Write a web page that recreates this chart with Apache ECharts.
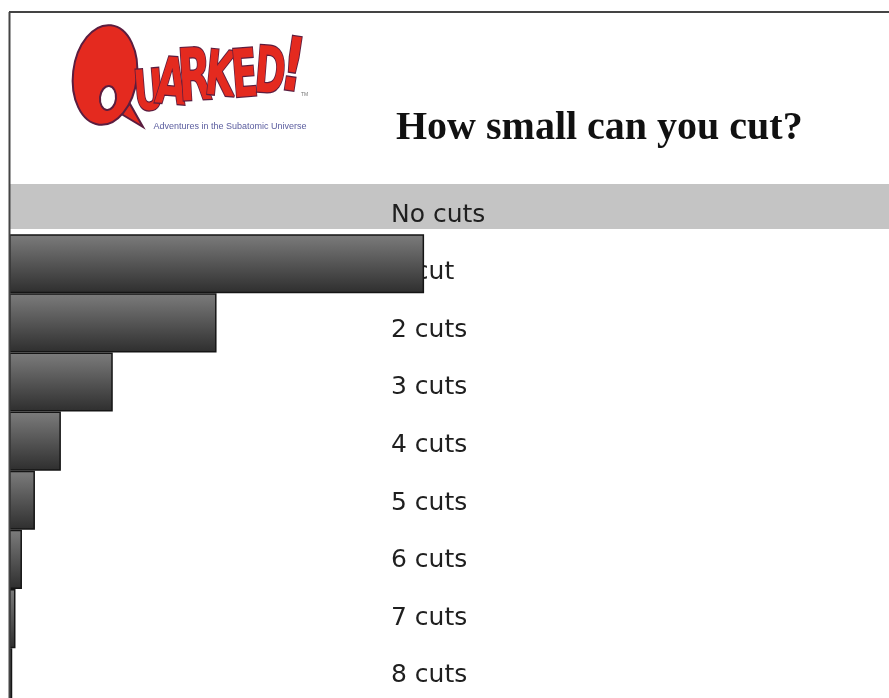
<!DOCTYPE html>
<html><head><meta charset="utf-8">
<script src="https://cdn.jsdelivr.net/npm/echarts@6/dist/echarts.min.js"></script>
<style>html,body{margin:0;padding:0;background:#fff}#c{width:889px;height:698px}</style>
</head><body><div id="c"></div>
<script>
// ---- data ----
const categories = ['No cuts', '1 cut', '2 cuts', '3 cuts', '4 cuts', '5 cuts', '6 cuts', '7 cuts', '8 cuts'];
const noCutValue = 100;
const cutCategories = ['1 cut', '2 cuts', '3 cuts', '4 cuts', '5 cuts', '6 cuts', '7 cuts', '8 cuts'];
const cutValues = [50, 25, 12.5, 6.25, 3.125, 1.5625, 0.78125, 0.390625];
const titleText = 'How small can you cut?';
const logoWord = 'QUARKED!';
const logoTagline = 'Adventures in the Subatomic Universe';

// ---- chart ----
const chart = echarts.init(document.getElementById('c'), null, {renderer: 'canvas'});

const RED = '#e42a1f', OUT = '#5b1d3f';
const letterSpecs = [ // x, y, size, rotation, scaleX for letters after Q
  [149, 95, 56, 0.08, 0.66],
  [171, 87, 64, -0.08, 0.62],
  [195, 81, 72, 0.06, 0.6],
  [220, 79, 62, -0.1, 0.62],
  [245, 79, 66, 0.08, 0.58],
  [270, 76, 64, -0.08, 0.58],
  [292, 71, 74, -0.15, 0.7]
];
const letters = logoWord.slice(1).split('').map((ch, i) => {
  const s = letterSpecs[i];
  return {
    type: 'text', x: s[0], y: s[1], rotation: s[3], scaleX: s[4], z: 30,
    style: {text: ch, fill: RED, stroke: OUT, lineWidth: 2.5,
      font: 'bold ' + s[2] + 'px "DejaVu Sans"', align: 'center', verticalAlign: 'middle'}
  };
});

const graphics = [
  // Q of the logo
  {type: 'polygon', z: 29, shape: {points: [[118, 112], [143, 127], [130, 104]]},
   style: {fill: RED, stroke: OUT, lineWidth: 2}},
  {type: 'ellipse', x: 105, y: 75, rotation: -0.12, z: 30, shape: {cx: 0, cy: 0, rx: 32, ry: 50},
   style: {fill: RED, stroke: OUT, lineWidth: 2}},
  {type: 'ellipse', x: 108, y: 98, rotation: -0.1, z: 31, shape: {cx: 0, cy: 0, rx: 8, ry: 12},
   style: {fill: '#fff', stroke: OUT, lineWidth: 2}},
  ...letters,
  {type: 'text', x: 301, y: 92, z: 30, style: {text: 'TM', fill: '#777', font: '5px "Liberation Sans"'}},
  {type: 'text', x: 230, y: 127, z: 30, style: {text: logoTagline, fill: '#5a5c9e',
    font: '9px "Liberation Sans"', align: 'center', verticalAlign: 'middle'}},
  // title
  {type: 'text', x: 396, y: 129, z: 30, style: {text: titleText, fill: '#111',
    font: 'bold 40px "Liberation Serif"', align: 'left', verticalAlign: 'middle'}},
  // frame
  {type: 'line', z: 40, shape: {x1: 9, y1: 12, x2: 889, y2: 12}, style: {stroke: '#444', lineWidth: 2}},
  {type: 'line', z: 40, shape: {x1: 9.5, y1: 12, x2: 9.5, y2: 698}, style: {stroke: '#444', lineWidth: 2}}
];

const option = {
  animation: false,
  backgroundColor: '#fff',
  grid: [
    {left: 9, right: 0, top: 175, height: 532.3, outerBoundsMode: 'none'},   // bars
    {left: 391, right: 0, top: 186.2, height: 518.4, outerBoundsMode: 'none'}, // labels
    {left: 9, right: 0, top: 184, height: 45, outerBoundsMode: 'none'}        // "no cuts" band
  ],
  xAxis: [
    {gridIndex: 0, type: 'value', min: 0, max: 106, show: false},
    {gridIndex: 1, type: 'value', min: 0, max: 1, show: false},
    {gridIndex: 2, type: 'value', min: 0, max: noCutValue, show: false}
  ],
  yAxis: [
    {gridIndex: 0, type: 'category', inverse: true, data: categories, show: false},
    {gridIndex: 1, type: 'category', inverse: true, data: categories, z: 3,
     axisLine: {show: false}, axisTick: {show: false}, splitLine: {show: false},
     axisLabel: {inside: true, margin: 0, fontSize: 25, fontFamily: 'DejaVu Sans', color: '#1f1f1f'}},
    {gridIndex: 2, type: 'category', inverse: true, data: [categories[0]], show: false}
  ],
  series: [
    {type: 'bar', xAxisIndex: 2, yAxisIndex: 2, data: [noCutValue], barWidth: '100%', z: 1, silent: true,
     itemStyle: {color: '#c4c4c4'}},
    {type: 'bar', xAxisIndex: 0, yAxisIndex: 0, data: cutValues.map((v, i) => [v, cutCategories[i]]),
     barCategoryGap: 0, z: 5, silent: true,
     itemStyle: {
       color: {type: 'linear', x: 0, y: 0, x2: 0, y2: 1,
         colorStops: [{offset: 0, color: '#7c7c7c'}, {offset: 1, color: '#2e2e2e'}]},
       borderColor: '#151515', borderWidth: 1.5
     }}
  ],
  graphic: graphics
};
chart.setOption(option);
</script>
</body></html>
